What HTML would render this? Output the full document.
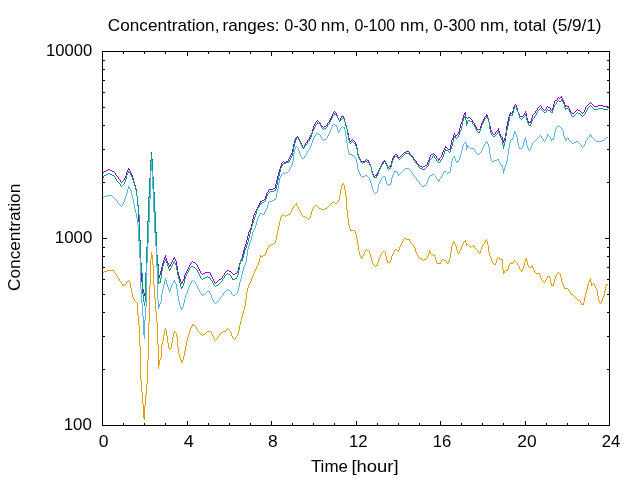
<!DOCTYPE html>
<html><head><meta charset="utf-8"><title>plot</title>
<style>
html,body{margin:0;padding:0;background:#fff;}
body{width:640px;height:480px;overflow:hidden;}
svg{display:block;will-change:transform;}
text{font-family:"Liberation Sans",sans-serif;font-size:16px;fill:#000;}
</style></head><body>
<svg width="640" height="480" viewBox="0 0 640 480">
<rect x="102.5" y="51.5" width="507" height="374" fill="none" stroke="#000" stroke-width="1"/>
<path d="M102.5 425 v-4 M102.5 52 v4 M123.5 425 v-2 M123.5 52 v2 M144.5 425 v-2 M144.5 52 v2 M165.5 425 v-2 M165.5 52 v2 M187.5 425 v-4 M187.5 52 v4 M208.5 425 v-2 M208.5 52 v2 M229.5 425 v-2 M229.5 52 v2 M250.5 425 v-2 M250.5 52 v2 M271.5 425 v-4 M271.5 52 v4 M292.5 425 v-2 M292.5 52 v2 M313.5 425 v-2 M313.5 52 v2 M334.5 425 v-2 M334.5 52 v2 M356.5 425 v-4 M356.5 52 v4 M377.5 425 v-2 M377.5 52 v2 M398.5 425 v-2 M398.5 52 v2 M419.5 425 v-2 M419.5 52 v2 M440.5 425 v-4 M440.5 52 v4 M461.5 425 v-2 M461.5 52 v2 M482.5 425 v-2 M482.5 52 v2 M503.5 425 v-2 M503.5 52 v2 M525.5 425 v-4 M525.5 52 v4 M546.5 425 v-2 M546.5 52 v2 M567.5 425 v-2 M567.5 52 v2 M588.5 425 v-2 M588.5 52 v2 M609.5 425 v-4 M609.5 52 v4 M103 425.5 h4 M609 425.5 h-4 M103 369.5 h2 M609 369.5 h-2 M103 336.5 h2 M609 336.5 h-2 M103 312.5 h2 M609 312.5 h-2 M103 294.5 h2 M609 294.5 h-2 M103 279.5 h2 M609 279.5 h-2 M103 267.5 h2 M609 267.5 h-2 M103 256.5 h2 M609 256.5 h-2 M103 247.5 h2 M609 247.5 h-2 M103 238.5 h4 M609 238.5 h-4 M103 182.5 h2 M609 182.5 h-2 M103 149.5 h2 M609 149.5 h-2 M103 125.5 h2 M609 125.5 h-2 M103 107.5 h2 M609 107.5 h-2 M103 92.5 h2 M609 92.5 h-2 M103 80.5 h2 M609 80.5 h-2 M103 69.5 h2 M609 69.5 h-2 M103 60.5 h2 M609 60.5 h-2 M103 51.5 h4 M609 51.5 h-4" stroke="#000" stroke-width="1" fill="none" shape-rendering="crispEdges"/>
<path d="M103 172h1v1h-1zM104 171h1v1h-1zM105 171h1v1h-1zM106 170h1v1h-1zM107 170h1v1h-1zM108 169h1v1h-1zM109 169h1v1h-1zM110 170h1v1h-1zM111 170h1v1h-1zM112 171h1v1h-1zM113 171h1v1h-1zM114 172h1v1h-1zM115 173h1v2h-1zM116 175h1v1h-1zM117 176h1v1h-1zM118 177h1v2h-1zM119 179h1v1h-1zM120 180h1v2h-1zM121 182h1v1h-1zM122 181h1v1h-1zM123 180h1v1h-1zM124 178h1v2h-1zM125 176h1v2h-1zM126 172h1v4h-1zM127 170h1v2h-1zM128 168h1v2h-1zM129 169h1v2h-1zM130 171h1v2h-1zM131 173h1v2h-1zM132 175h1v3h-1zM133 178h1v4h-1zM134 182h1v3h-1zM135 185h1v4h-1zM136 189h1v7h-1zM137 196h1v9h-1zM138 205h1v17h-1zM139 222h1v18h-1zM140 240h1v23h-1zM141 263h1v19h-1zM142 282h1v7h-1zM143 289h1v4h-1zM144 293h1v3h-1zM145 273h1v20h-1zM146 247h1v26h-1zM147 221h1v26h-1zM148 197h1v24h-1zM149 178h1v19h-1zM150 160h1v18h-1zM151 152h1v8h-1zM152 159h1v18h-1zM153 177h1v15h-1zM154 192h1v20h-1zM155 212h1v20h-1zM156 232h1v23h-1zM157 255h1v9h-1zM158 264h1v11h-1zM159 275h1v3h-1zM160 271h1v4h-1zM161 267h1v4h-1zM162 263h1v4h-1zM163 260h1v3h-1zM164 257h1v3h-1zM165 255h1v3h-1zM166 258h1v3h-1zM167 261h1v2h-1zM168 263h1v2h-1zM169 265h1v2h-1zM170 264h1v2h-1zM171 262h1v2h-1zM172 260h1v2h-1zM173 258h1v2h-1zM174 257h1v2h-1zM175 259h1v2h-1zM176 261h1v5h-1zM177 266h1v6h-1zM178 272h1v4h-1zM179 276h1v3h-1zM180 279h1v3h-1zM181 282h1v2h-1zM182 281h1v2h-1zM183 279h1v2h-1zM184 275h1v4h-1zM185 273h1v2h-1zM186 271h1v2h-1zM187 269h1v2h-1zM188 267h1v2h-1zM189 265h1v2h-1zM190 263h1v2h-1zM191 262h1v1h-1zM192 261h1v1h-1zM193 262h1v1h-1zM194 262h1v1h-1zM195 263h1v1h-1zM196 264h1v1h-1zM197 265h1v2h-1zM198 267h1v2h-1zM199 269h1v2h-1zM200 271h1v2h-1zM201 273h1v1h-1zM202 274h1v1h-1zM203 273h1v1h-1zM204 273h1v1h-1zM205 272h1v1h-1zM206 272h1v1h-1zM207 272h1v1h-1zM208 272h1v1h-1zM209 272h1v1h-1zM210 273h1v2h-1zM211 275h1v2h-1zM212 277h1v2h-1zM213 279h1v2h-1zM214 281h1v2h-1zM215 283h1v1h-1zM216 282h1v1h-1zM217 281h1v1h-1zM218 280h1v1h-1zM219 279h1v1h-1zM220 279h1v1h-1zM221 278h1v1h-1zM222 276h1v2h-1zM223 275h1v1h-1zM224 273h1v2h-1zM225 272h1v1h-1zM226 271h1v1h-1zM227 270h1v1h-1zM228 270h1v1h-1zM229 271h1v1h-1zM230 271h1v1h-1zM231 272h1v1h-1zM232 273h1v1h-1zM233 274h1v1h-1zM234 274h1v1h-1zM235 273h1v1h-1zM236 273h1v1h-1zM237 271h1v2h-1zM238 267h1v4h-1zM239 263h1v4h-1zM240 261h1v2h-1zM241 258h1v3h-1zM242 254h1v4h-1zM243 250h1v4h-1zM244 247h1v3h-1zM245 244h1v3h-1zM246 240h1v4h-1zM247 236h1v4h-1zM248 232h1v4h-1zM249 230h1v2h-1zM250 228h1v2h-1zM251 224h1v4h-1zM252 219h1v5h-1zM253 215h1v4h-1zM254 213h1v2h-1zM255 211h1v2h-1zM256 209h1v2h-1zM257 207h1v2h-1zM258 205h1v2h-1zM259 203h1v2h-1zM260 201h1v2h-1zM261 201h1v1h-1zM262 200h1v1h-1zM263 200h1v1h-1zM264 199h1v1h-1zM265 196h1v3h-1zM266 193h1v3h-1zM267 192h1v1h-1zM268 190h1v2h-1zM269 189h1v1h-1zM270 189h1v1h-1zM271 189h1v1h-1zM272 189h1v1h-1zM273 188h1v1h-1zM274 188h1v1h-1zM275 184h1v4h-1zM276 180h1v4h-1zM277 176h1v4h-1zM278 172h1v4h-1zM279 169h1v3h-1zM280 166h1v3h-1zM281 163h1v3h-1zM282 162h1v1h-1zM283 161h1v1h-1zM284 162h1v1h-1zM285 162h1v1h-1zM286 161h1v1h-1zM287 161h1v1h-1zM288 159h1v2h-1zM289 157h1v2h-1zM290 155h1v2h-1zM291 153h1v2h-1zM292 149h1v4h-1zM293 144h1v5h-1zM294 140h1v4h-1zM295 138h1v2h-1zM296 137h1v1h-1zM297 136h1v1h-1zM298 137h1v2h-1zM299 139h1v2h-1zM300 141h1v2h-1zM301 143h1v2h-1zM302 145h1v2h-1zM303 147h1v1h-1zM304 145h1v2h-1zM305 143h1v2h-1zM306 142h1v1h-1zM307 140h1v2h-1zM308 139h1v1h-1zM309 137h1v2h-1zM310 135h1v2h-1zM311 133h1v2h-1zM312 129h1v4h-1zM313 126h1v3h-1zM314 124h1v2h-1zM315 122h1v2h-1zM316 121h1v1h-1zM317 120h1v1h-1zM318 121h1v1h-1zM319 122h1v1h-1zM320 123h1v2h-1zM321 125h1v1h-1zM322 126h1v1h-1zM323 127h1v1h-1zM324 126h1v1h-1zM325 126h1v1h-1zM326 125h1v1h-1zM327 123h1v2h-1zM328 122h1v1h-1zM329 120h1v2h-1zM330 118h1v2h-1zM331 116h1v2h-1zM332 114h1v2h-1zM333 112h1v2h-1zM334 111h1v1h-1zM335 112h1v1h-1zM336 113h1v2h-1zM337 115h1v3h-1zM338 118h1v2h-1zM339 120h1v1h-1zM340 118h1v2h-1zM341 116h1v2h-1zM342 116h1v1h-1zM343 116h1v2h-1zM344 118h1v4h-1zM345 122h1v4h-1zM346 126h1v3h-1zM347 129h1v4h-1zM348 133h1v5h-1zM349 138h1v3h-1zM350 141h1v1h-1zM351 140h1v1h-1zM352 139h1v1h-1zM353 140h1v1h-1zM354 141h1v1h-1zM355 142h1v2h-1zM356 144h1v4h-1zM357 148h1v6h-1zM358 154h1v3h-1zM359 157h1v2h-1zM360 159h1v2h-1zM361 161h1v1h-1zM362 161h1v1h-1zM363 161h1v1h-1zM364 161h1v1h-1zM365 160h1v1h-1zM366 159h1v1h-1zM367 160h1v1h-1zM368 160h1v2h-1zM369 162h1v3h-1zM370 165h1v2h-1zM371 167h1v4h-1zM372 171h1v3h-1zM373 174h1v2h-1zM374 176h1v1h-1zM375 175h1v1h-1zM376 174h1v2h-1zM377 172h1v2h-1zM378 170h1v2h-1zM379 168h1v2h-1zM380 166h1v2h-1zM381 164h1v2h-1zM382 162h1v2h-1zM383 161h1v1h-1zM384 160h1v1h-1zM385 161h1v2h-1zM386 163h1v2h-1zM387 165h1v2h-1zM388 167h1v1h-1zM389 166h1v1h-1zM390 165h1v2h-1zM391 161h1v4h-1zM392 158h1v3h-1zM393 156h1v2h-1zM394 155h1v1h-1zM395 154h1v1h-1zM396 154h1v1h-1zM397 155h1v2h-1zM398 157h1v1h-1zM399 157h1v1h-1zM400 156h1v1h-1zM401 155h1v1h-1zM402 154h1v1h-1zM403 153h1v1h-1zM404 152h1v1h-1zM405 152h1v1h-1zM406 151h1v1h-1zM407 151h1v1h-1zM408 151h1v1h-1zM409 152h1v2h-1zM410 154h1v1h-1zM411 155h1v1h-1zM412 156h1v1h-1zM413 157h1v2h-1zM414 159h1v1h-1zM415 160h1v1h-1zM416 161h1v2h-1zM417 163h1v1h-1zM418 164h1v1h-1zM419 165h1v1h-1zM420 166h1v1h-1zM421 166h1v1h-1zM422 167h1v1h-1zM423 166h1v1h-1zM424 166h1v1h-1zM425 165h1v1h-1zM426 165h1v1h-1zM427 162h1v3h-1zM428 160h1v2h-1zM429 157h1v3h-1zM430 155h1v2h-1zM431 154h1v1h-1zM432 154h1v1h-1zM433 153h1v1h-1zM434 154h1v1h-1zM435 155h1v1h-1zM436 156h1v2h-1zM437 158h1v1h-1zM438 159h1v2h-1zM439 158h1v2h-1zM440 157h1v1h-1zM441 155h1v2h-1zM442 152h1v3h-1zM443 150h1v2h-1zM444 148h1v2h-1zM445 146h1v2h-1zM446 147h1v1h-1zM447 148h1v1h-1zM448 149h1v1h-1zM449 149h1v1h-1zM450 145h1v4h-1zM451 140h1v5h-1zM452 138h1v2h-1zM453 135h1v3h-1zM454 133h1v2h-1zM455 135h1v2h-1zM456 135h1v1h-1zM457 134h1v1h-1zM458 132h1v2h-1zM459 128h1v4h-1zM460 124h1v4h-1zM461 122h1v2h-1zM462 118h1v4h-1zM463 115h1v3h-1zM464 113h1v2h-1zM465 112h1v5h-1zM466 117h1v1h-1zM467 118h1v1h-1zM468 117h1v1h-1zM469 117h1v1h-1zM470 118h1v1h-1zM471 119h1v1h-1zM472 120h1v2h-1zM473 122h1v1h-1zM474 123h1v2h-1zM475 125h1v2h-1zM476 127h1v2h-1zM477 129h1v1h-1zM478 129h1v1h-1zM479 129h1v1h-1zM480 126h1v3h-1zM481 123h1v3h-1zM482 121h1v2h-1zM483 119h1v2h-1zM484 117h1v2h-1zM485 116h1v1h-1zM486 114h1v2h-1zM487 115h1v3h-1zM488 118h1v4h-1zM489 122h1v4h-1zM490 126h1v4h-1zM491 130h1v2h-1zM492 132h1v2h-1zM493 134h1v1h-1zM494 134h1v1h-1zM495 132h1v2h-1zM496 131h1v1h-1zM497 130h1v1h-1zM498 128h1v3h-1zM499 131h1v3h-1zM500 134h1v2h-1zM501 136h1v1h-1zM502 137h1v3h-1zM503 140h1v3h-1zM504 138h1v3h-1zM505 133h1v5h-1zM506 126h1v7h-1zM507 121h1v5h-1zM508 117h1v4h-1zM509 114h1v3h-1zM510 112h1v2h-1zM511 113h1v1h-1zM512 111h1v3h-1zM513 107h1v4h-1zM514 105h1v2h-1zM515 104h1v1h-1zM516 105h1v3h-1zM517 108h1v4h-1zM518 112h1v2h-1zM519 114h1v2h-1zM520 116h1v1h-1zM521 116h1v1h-1zM522 116h1v1h-1zM523 115h1v1h-1zM524 113h1v2h-1zM525 111h1v2h-1zM526 113h1v5h-1zM527 118h1v3h-1zM528 121h1v2h-1zM529 122h1v1h-1zM530 121h1v2h-1zM531 118h1v3h-1zM532 115h1v3h-1zM533 114h1v1h-1zM534 113h1v1h-1zM535 111h1v2h-1zM536 110h1v1h-1zM537 108h1v2h-1zM538 107h1v1h-1zM539 106h1v1h-1zM540 105h1v1h-1zM541 106h1v2h-1zM542 108h1v1h-1zM543 109h1v1h-1zM544 110h1v1h-1zM545 109h1v1h-1zM546 107h1v2h-1zM547 106h1v1h-1zM548 107h1v1h-1zM549 107h1v1h-1zM550 108h1v2h-1zM551 110h1v1h-1zM552 108h1v2h-1zM553 104h1v4h-1zM554 101h1v3h-1zM555 100h1v1h-1zM556 100h1v1h-1zM557 98h1v2h-1zM558 97h1v1h-1zM559 98h1v1h-1zM560 97h1v1h-1zM561 96h1v2h-1zM562 98h1v2h-1zM563 100h1v2h-1zM564 102h1v3h-1zM565 105h1v2h-1zM566 105h1v1h-1zM567 106h1v1h-1zM568 106h1v2h-1zM569 108h1v2h-1zM570 110h1v2h-1zM571 112h1v1h-1zM572 113h1v1h-1zM573 113h1v1h-1zM574 112h1v1h-1zM575 111h1v1h-1zM576 110h1v1h-1zM577 109h1v1h-1zM578 110h1v1h-1zM579 110h1v1h-1zM580 111h1v1h-1zM581 112h1v1h-1zM582 113h1v1h-1zM583 112h1v1h-1zM584 110h1v2h-1zM585 107h1v3h-1zM586 106h1v1h-1zM587 105h1v1h-1zM588 104h1v1h-1zM589 103h1v1h-1zM590 102h1v1h-1zM591 103h1v1h-1zM592 104h1v1h-1zM593 105h1v1h-1zM594 106h1v1h-1zM595 106h1v1h-1zM596 106h1v1h-1zM597 106h1v1h-1zM598 105h1v1h-1zM599 105h1v1h-1zM600 105h1v1h-1zM601 105h1v1h-1zM602 105h1v1h-1zM603 106h1v1h-1zM604 106h1v1h-1zM605 106h1v1h-1zM606 106h1v1h-1zM607 106h1v1h-1z" fill="#9400d3" shape-rendering="crispEdges"/>
<path d="M103 176h1v2h-1zM104 175h1v1h-1zM105 175h1v1h-1zM106 174h1v1h-1zM107 174h1v1h-1zM108 173h1v1h-1zM109 173h1v1h-1zM110 174h1v1h-1zM111 174h1v1h-1zM112 175h1v1h-1zM113 175h1v1h-1zM114 176h1v1h-1zM115 177h1v2h-1zM116 179h1v2h-1zM117 181h1v1h-1zM118 182h1v1h-1zM119 183h1v1h-1zM120 184h1v2h-1zM121 186h1v1h-1zM122 185h1v1h-1zM123 184h1v1h-1zM124 182h1v2h-1zM125 179h1v3h-1zM126 175h1v4h-1zM127 173h1v2h-1zM128 171h1v2h-1zM129 172h1v1h-1zM130 173h1v2h-1zM131 175h1v2h-1zM132 177h1v3h-1zM133 180h1v3h-1zM134 183h1v3h-1zM135 186h1v4h-1zM136 190h1v6h-1zM137 196h1v10h-1zM138 206h1v9h-1zM139 215h1v26h-1zM140 241h1v24h-1zM141 265h1v8h-1zM142 273h1v21h-1zM143 294h1v8h-1zM144 302h1v4h-1zM145 274h1v28h-1zM146 248h1v26h-1zM147 222h1v26h-1zM148 198h1v24h-1zM149 179h1v19h-1zM150 161h1v18h-1zM151 153h1v8h-1zM152 160h1v18h-1zM153 178h1v15h-1zM154 193h1v20h-1zM155 213h1v20h-1zM156 233h1v23h-1zM157 256h1v10h-1zM158 266h1v18h-1zM159 282h1v1h-1zM160 278h1v5h-1zM161 271h1v7h-1zM162 266h1v5h-1zM163 263h1v3h-1zM164 261h1v2h-1zM165 259h1v2h-1zM166 261h1v2h-1zM167 263h1v3h-1zM168 266h1v3h-1zM169 269h1v2h-1zM170 268h1v2h-1zM171 266h1v2h-1zM172 264h1v2h-1zM173 262h1v2h-1zM174 261h1v2h-1zM175 263h1v2h-1zM176 265h1v5h-1zM177 270h1v5h-1zM178 275h1v4h-1zM179 279h1v4h-1zM180 283h1v4h-1zM181 287h1v2h-1zM182 286h1v2h-1zM183 283h1v3h-1zM184 279h1v4h-1zM185 276h1v3h-1zM186 274h1v2h-1zM187 272h1v2h-1zM188 270h1v2h-1zM189 268h1v2h-1zM190 267h1v1h-1zM191 266h1v1h-1zM192 266h1v1h-1zM193 267h1v1h-1zM194 267h1v1h-1zM195 268h1v1h-1zM196 269h1v1h-1zM197 270h1v2h-1zM198 272h1v2h-1zM199 274h1v2h-1zM200 276h1v2h-1zM201 278h1v1h-1zM202 279h1v1h-1zM203 278h1v1h-1zM204 278h1v1h-1zM205 277h1v1h-1zM206 277h1v1h-1zM207 276h1v1h-1zM208 277h1v1h-1zM209 277h1v1h-1zM210 278h1v2h-1zM211 280h1v1h-1zM212 281h1v2h-1zM213 283h1v2h-1zM214 285h1v1h-1zM215 286h1v1h-1zM216 285h1v1h-1zM217 285h1v1h-1zM218 284h1v1h-1zM219 283h1v1h-1zM220 282h1v1h-1zM221 281h1v1h-1zM222 279h1v2h-1zM223 278h1v1h-1zM224 276h1v2h-1zM225 275h1v1h-1zM226 274h1v1h-1zM227 273h1v1h-1zM228 274h1v1h-1zM229 274h1v1h-1zM230 275h1v1h-1zM231 276h1v2h-1zM232 278h1v2h-1zM233 279h1v1h-1zM234 279h1v1h-1zM235 278h1v1h-1zM236 277h1v2h-1zM237 275h1v2h-1zM238 270h1v5h-1zM239 264h1v6h-1zM240 260h1v4h-1zM241 258h1v2h-1zM242 258h1v3h-1zM243 254h1v4h-1zM244 250h1v4h-1zM245 248h1v2h-1zM246 245h1v3h-1zM247 242h1v3h-1zM248 238h1v4h-1zM249 234h1v4h-1zM250 230h1v4h-1zM251 226h1v4h-1zM252 223h1v3h-1zM253 220h1v3h-1zM254 217h1v3h-1zM255 214h1v3h-1zM256 210h1v4h-1zM257 208h1v2h-1zM258 207h1v1h-1zM259 205h1v2h-1zM260 203h1v2h-1zM261 203h1v1h-1zM262 202h1v1h-1zM263 202h1v1h-1zM264 201h1v1h-1zM265 199h1v2h-1zM266 196h1v3h-1zM267 194h1v2h-1zM268 193h1v1h-1zM269 192h1v1h-1zM270 191h1v1h-1zM271 191h1v1h-1zM272 191h1v1h-1zM273 191h1v1h-1zM274 190h1v1h-1zM275 189h1v2h-1zM276 185h1v4h-1zM277 180h1v5h-1zM278 176h1v4h-1zM279 172h1v4h-1zM280 168h1v4h-1zM281 166h1v2h-1zM282 164h1v2h-1zM283 163h1v1h-1zM284 163h1v1h-1zM285 163h1v1h-1zM286 162h1v1h-1zM287 162h1v1h-1zM288 162h1v1h-1zM289 160h1v2h-1zM290 158h1v2h-1zM291 156h1v2h-1zM292 152h1v4h-1zM293 147h1v5h-1zM294 143h1v4h-1zM295 140h1v3h-1zM296 138h1v2h-1zM297 137h1v1h-1zM298 138h1v2h-1zM299 140h1v2h-1zM300 142h1v2h-1zM301 144h1v2h-1zM302 146h1v2h-1zM303 148h1v1h-1zM304 146h1v2h-1zM305 145h1v1h-1zM306 144h1v1h-1zM307 142h1v2h-1zM308 141h1v1h-1zM309 139h1v2h-1zM310 137h1v2h-1zM311 134h1v3h-1zM312 131h1v3h-1zM313 129h1v2h-1zM314 127h1v2h-1zM315 125h1v2h-1zM316 124h1v1h-1zM317 122h1v2h-1zM318 123h1v1h-1zM319 123h1v1h-1zM320 124h1v2h-1zM321 126h1v2h-1zM322 128h1v1h-1zM323 129h1v1h-1zM324 128h1v1h-1zM325 128h1v1h-1zM326 127h1v1h-1zM327 125h1v2h-1zM328 124h1v1h-1zM329 122h1v2h-1zM330 120h1v2h-1zM331 118h1v2h-1zM332 116h1v2h-1zM333 115h1v1h-1zM334 113h1v2h-1zM335 114h1v1h-1zM336 115h1v1h-1zM337 116h1v2h-1zM338 118h1v2h-1zM339 120h1v2h-1zM340 120h1v1h-1zM341 119h1v1h-1zM342 118h1v1h-1zM343 117h1v2h-1zM344 119h1v3h-1zM345 122h1v3h-1zM346 125h1v4h-1zM347 129h1v6h-1zM348 135h1v5h-1zM349 140h1v3h-1zM350 143h1v1h-1zM351 142h1v1h-1zM352 141h1v1h-1zM353 142h1v1h-1zM354 143h1v1h-1zM355 144h1v2h-1zM356 146h1v3h-1zM357 149h1v6h-1zM358 155h1v3h-1zM359 158h1v2h-1zM360 160h1v2h-1zM361 162h1v1h-1zM362 163h1v1h-1zM363 162h1v1h-1zM364 162h1v1h-1zM365 161h1v1h-1zM366 161h1v1h-1zM367 162h1v1h-1zM368 162h1v1h-1zM369 163h1v1h-1zM370 164h1v3h-1zM371 167h1v5h-1zM372 172h1v3h-1zM373 175h1v2h-1zM374 177h1v1h-1zM375 177h1v1h-1zM376 176h1v2h-1zM377 174h1v2h-1zM378 171h1v3h-1zM379 169h1v2h-1zM380 167h1v2h-1zM381 165h1v2h-1zM382 164h1v1h-1zM383 162h1v2h-1zM384 161h1v1h-1zM385 162h1v2h-1zM386 164h1v2h-1zM387 166h1v3h-1zM388 169h1v1h-1zM389 168h1v1h-1zM390 167h1v2h-1zM391 163h1v4h-1zM392 160h1v3h-1zM393 158h1v2h-1zM394 156h1v2h-1zM395 156h1v1h-1zM396 156h1v1h-1zM397 157h1v1h-1zM398 158h1v1h-1zM399 159h1v1h-1zM400 158h1v1h-1zM401 157h1v1h-1zM402 156h1v1h-1zM403 155h1v1h-1zM404 154h1v1h-1zM405 153h1v1h-1zM406 153h1v1h-1zM407 153h1v1h-1zM408 153h1v1h-1zM409 154h1v1h-1zM410 155h1v1h-1zM411 156h1v1h-1zM412 157h1v1h-1zM413 158h1v2h-1zM414 160h1v2h-1zM415 162h1v1h-1zM416 163h1v1h-1zM417 164h1v1h-1zM418 165h1v2h-1zM419 167h1v1h-1zM420 168h1v1h-1zM421 168h1v1h-1zM422 169h1v1h-1zM423 169h1v1h-1zM424 169h1v1h-1zM425 168h1v1h-1zM426 167h1v1h-1zM427 166h1v1h-1zM428 163h1v3h-1zM429 160h1v3h-1zM430 159h1v1h-1zM431 158h1v1h-1zM432 156h1v2h-1zM433 155h1v1h-1zM434 156h1v2h-1zM435 158h1v1h-1zM436 159h1v2h-1zM437 161h1v1h-1zM438 162h1v1h-1zM439 162h1v1h-1zM440 160h1v2h-1zM441 159h1v1h-1zM442 157h1v2h-1zM443 154h1v3h-1zM444 151h1v3h-1zM445 149h1v2h-1zM446 150h1v1h-1zM447 150h1v1h-1zM448 151h1v1h-1zM449 152h1v1h-1zM450 149h1v3h-1zM451 146h1v3h-1zM452 142h1v4h-1zM453 138h1v4h-1zM454 136h1v2h-1zM455 137h1v1h-1zM456 138h1v1h-1zM457 137h1v1h-1zM458 135h1v2h-1zM459 132h1v3h-1zM460 130h1v2h-1zM461 126h1v4h-1zM462 121h1v5h-1zM463 118h1v3h-1zM464 116h1v2h-1zM465 115h1v5h-1zM466 120h1v6h-1zM467 121h1v3h-1zM468 120h1v1h-1zM469 120h1v1h-1zM470 121h1v1h-1zM471 121h1v1h-1zM472 122h1v2h-1zM473 124h1v1h-1zM474 125h1v2h-1zM475 127h1v2h-1zM476 129h1v2h-1zM477 131h1v1h-1zM478 132h1v1h-1zM479 131h1v2h-1zM480 128h1v3h-1zM481 125h1v3h-1zM482 123h1v2h-1zM483 121h1v2h-1zM484 119h1v2h-1zM485 118h1v1h-1zM486 116h1v2h-1zM487 117h1v2h-1zM488 119h1v3h-1zM489 122h1v7h-1zM490 129h1v4h-1zM491 133h1v2h-1zM492 135h1v1h-1zM493 136h1v1h-1zM494 136h1v1h-1zM495 135h1v1h-1zM496 134h1v1h-1zM497 132h1v2h-1zM498 131h1v2h-1zM499 133h1v3h-1zM500 136h1v2h-1zM501 138h1v2h-1zM502 140h1v5h-1zM503 145h1v4h-1zM504 142h1v4h-1zM505 136h1v6h-1zM506 130h1v6h-1zM507 126h1v4h-1zM508 121h1v5h-1zM509 116h1v5h-1zM510 114h1v2h-1zM511 115h1v1h-1zM512 113h1v3h-1zM513 109h1v4h-1zM514 107h1v2h-1zM515 106h1v1h-1zM516 107h1v3h-1zM517 110h1v2h-1zM518 112h1v3h-1zM519 115h1v3h-1zM520 118h1v1h-1zM521 119h1v1h-1zM522 118h1v1h-1zM523 117h1v1h-1zM524 116h1v1h-1zM525 114h1v2h-1zM526 116h1v4h-1zM527 120h1v3h-1zM528 123h1v2h-1zM529 125h1v1h-1zM530 124h1v2h-1zM531 121h1v3h-1zM532 119h1v2h-1zM533 118h1v1h-1zM534 116h1v2h-1zM535 115h1v1h-1zM536 113h1v2h-1zM537 111h1v2h-1zM538 110h1v1h-1zM539 109h1v1h-1zM540 108h1v1h-1zM541 109h1v1h-1zM542 110h1v1h-1zM543 111h1v1h-1zM544 112h1v1h-1zM545 112h1v1h-1zM546 110h1v2h-1zM547 109h1v1h-1zM548 110h1v1h-1zM549 110h1v1h-1zM550 111h1v1h-1zM551 112h1v1h-1zM552 110h1v3h-1zM553 107h1v3h-1zM554 105h1v2h-1zM555 104h1v1h-1zM556 102h1v2h-1zM557 101h1v1h-1zM558 100h1v1h-1zM559 101h1v1h-1zM560 101h1v1h-1zM561 99h1v2h-1zM562 100h1v2h-1zM563 102h1v2h-1zM564 104h1v4h-1zM565 108h1v2h-1zM566 108h1v1h-1zM567 108h1v1h-1zM568 109h1v1h-1zM569 110h1v2h-1zM570 112h1v2h-1zM571 114h1v2h-1zM572 116h1v1h-1zM573 116h1v1h-1zM574 115h1v1h-1zM575 114h1v1h-1zM576 113h1v1h-1zM577 112h1v1h-1zM578 113h1v1h-1zM579 113h1v1h-1zM580 114h1v1h-1zM581 115h1v1h-1zM582 116h1v1h-1zM583 115h1v1h-1zM584 114h1v1h-1zM585 112h1v2h-1zM586 110h1v2h-1zM587 108h1v2h-1zM588 107h1v1h-1zM589 106h1v1h-1zM590 105h1v1h-1zM591 106h1v1h-1zM592 107h1v1h-1zM593 108h1v1h-1zM594 109h1v1h-1zM595 109h1v1h-1zM596 109h1v1h-1zM597 109h1v1h-1zM598 108h1v1h-1zM599 108h1v1h-1zM600 108h1v1h-1zM601 108h1v1h-1zM602 108h1v1h-1zM603 109h1v1h-1zM604 109h1v1h-1zM605 109h1v1h-1zM606 109h1v1h-1zM607 109h1v1h-1z" fill="#009e73" shape-rendering="crispEdges"/>
<path d="M103 197h1v1h-1zM104 196h1v1h-1zM105 196h1v1h-1zM106 196h1v1h-1zM107 195h1v1h-1zM108 195h1v1h-1zM109 195h1v1h-1zM110 195h1v1h-1zM111 195h1v1h-1zM112 196h1v1h-1zM113 197h1v1h-1zM114 198h1v1h-1zM115 199h1v1h-1zM116 200h1v1h-1zM117 201h1v2h-1zM118 203h1v1h-1zM119 204h1v1h-1zM120 205h1v1h-1zM121 206h1v1h-1zM122 204h1v2h-1zM123 202h1v2h-1zM124 199h1v3h-1zM125 196h1v3h-1zM126 193h1v3h-1zM127 189h1v4h-1zM128 186h1v3h-1zM129 187h1v2h-1zM130 189h1v2h-1zM131 191h1v4h-1zM132 195h1v4h-1zM133 199h1v5h-1zM134 204h1v5h-1zM135 209h1v4h-1zM136 213h1v5h-1zM137 218h1v7h-1zM138 225h1v17h-1zM139 242h1v16h-1zM140 258h1v31h-1zM141 289h1v14h-1zM142 303h1v13h-1zM143 316h1v19h-1zM144 320h1v19h-1zM145 307h1v13h-1zM146 263h1v44h-1zM147 243h1v20h-1zM148 223h1v20h-1zM149 199h1v24h-1zM150 171h1v28h-1zM151 160h1v11h-1zM152 171h1v18h-1zM153 189h1v23h-1zM154 212h1v21h-1zM155 233h1v13h-1zM156 246h1v21h-1zM157 267h1v33h-1zM158 300h1v9h-1zM159 304h1v3h-1zM160 302h1v2h-1zM161 294h1v8h-1zM162 289h1v5h-1zM163 285h1v4h-1zM164 281h1v4h-1zM165 278h1v3h-1zM166 280h1v4h-1zM167 284h1v3h-1zM168 287h1v3h-1zM169 290h1v2h-1zM170 288h1v3h-1zM171 285h1v3h-1zM172 283h1v2h-1zM173 281h1v2h-1zM174 280h1v2h-1zM175 282h1v2h-1zM176 284h1v5h-1zM177 289h1v7h-1zM178 296h1v5h-1zM179 301h1v4h-1zM180 305h1v3h-1zM181 308h1v2h-1zM182 307h1v2h-1zM183 303h1v4h-1zM184 299h1v4h-1zM185 295h1v4h-1zM186 293h1v2h-1zM187 290h1v3h-1zM188 287h1v3h-1zM189 285h1v2h-1zM190 283h1v2h-1zM191 281h1v2h-1zM192 280h1v1h-1zM193 281h1v1h-1zM194 281h1v1h-1zM195 282h1v2h-1zM196 284h1v2h-1zM197 286h1v2h-1zM198 288h1v2h-1zM199 290h1v2h-1zM200 292h1v1h-1zM201 293h1v2h-1zM202 295h1v1h-1zM203 294h1v1h-1zM204 294h1v1h-1zM205 293h1v1h-1zM206 292h1v1h-1zM207 291h1v1h-1zM208 291h1v1h-1zM209 291h1v2h-1zM210 293h1v2h-1zM211 295h1v3h-1zM212 298h1v2h-1zM213 300h1v2h-1zM214 302h1v1h-1zM215 303h1v1h-1zM216 302h1v1h-1zM217 301h1v1h-1zM218 300h1v1h-1zM219 299h1v1h-1zM220 297h1v2h-1zM221 296h1v1h-1zM222 295h1v1h-1zM223 293h1v2h-1zM224 292h1v1h-1zM225 291h1v1h-1zM226 290h1v1h-1zM227 289h1v1h-1zM228 290h1v1h-1zM229 290h1v1h-1zM230 291h1v1h-1zM231 292h1v2h-1zM232 294h1v1h-1zM233 295h1v1h-1zM234 295h1v1h-1zM235 294h1v1h-1zM236 293h1v1h-1zM237 291h1v2h-1zM238 287h1v4h-1zM239 282h1v5h-1zM240 279h1v3h-1zM241 275h1v4h-1zM242 271h1v4h-1zM243 267h1v4h-1zM244 265h1v2h-1zM245 262h1v3h-1zM246 256h1v6h-1zM247 249h1v7h-1zM248 246h1v3h-1zM249 243h1v3h-1zM250 240h1v3h-1zM251 236h1v4h-1zM252 232h1v4h-1zM253 230h1v2h-1zM254 228h1v2h-1zM255 225h1v3h-1zM256 221h1v4h-1zM257 218h1v3h-1zM258 216h1v2h-1zM259 214h1v2h-1zM260 213h1v1h-1zM261 213h1v1h-1zM262 214h1v1h-1zM263 214h1v1h-1zM264 212h1v2h-1zM265 210h1v2h-1zM266 208h1v2h-1zM267 205h1v3h-1zM268 202h1v3h-1zM269 201h1v1h-1zM270 201h1v1h-1zM271 201h1v1h-1zM272 200h1v1h-1zM273 200h1v1h-1zM274 199h1v1h-1zM275 198h1v2h-1zM276 193h1v5h-1zM277 189h1v4h-1zM278 183h1v6h-1zM279 178h1v5h-1zM280 176h1v2h-1zM281 174h1v2h-1zM282 173h1v1h-1zM283 172h1v1h-1zM284 173h1v1h-1zM285 173h1v1h-1zM286 172h1v1h-1zM287 172h1v1h-1zM288 171h1v1h-1zM289 169h1v2h-1zM290 167h1v2h-1zM291 165h1v2h-1zM292 161h1v4h-1zM293 153h1v8h-1zM294 149h1v4h-1zM295 147h1v2h-1zM296 146h1v1h-1zM297 147h1v1h-1zM298 148h1v3h-1zM299 151h1v3h-1zM300 154h1v2h-1zM301 156h1v2h-1zM302 158h1v1h-1zM303 158h1v1h-1zM304 156h1v2h-1zM305 155h1v1h-1zM306 153h1v2h-1zM307 151h1v2h-1zM308 150h1v1h-1zM309 148h1v2h-1zM310 146h1v2h-1zM311 143h1v3h-1zM312 140h1v3h-1zM313 138h1v2h-1zM314 136h1v2h-1zM315 134h1v2h-1zM316 133h1v1h-1zM317 133h1v1h-1zM318 134h1v1h-1zM319 134h1v1h-1zM320 135h1v2h-1zM321 137h1v2h-1zM322 139h1v1h-1zM323 140h1v1h-1zM324 139h1v1h-1zM325 139h1v1h-1zM326 138h1v1h-1zM327 136h1v2h-1zM328 134h1v2h-1zM329 132h1v2h-1zM330 129h1v3h-1zM331 127h1v2h-1zM332 125h1v2h-1zM333 124h1v1h-1zM334 124h1v1h-1zM335 125h1v1h-1zM336 125h1v2h-1zM337 127h1v4h-1zM338 131h1v2h-1zM339 130h1v2h-1zM340 128h1v2h-1zM341 127h1v1h-1zM342 126h1v1h-1zM343 127h1v1h-1zM344 127h1v3h-1zM345 130h1v6h-1zM346 136h1v7h-1zM347 143h1v6h-1zM348 149h1v4h-1zM349 153h1v2h-1zM350 154h1v1h-1zM351 154h1v1h-1zM352 155h1v1h-1zM353 155h1v1h-1zM354 156h1v2h-1zM355 158h1v1h-1zM356 159h1v4h-1zM357 163h1v6h-1zM358 169h1v3h-1zM359 172h1v2h-1zM360 174h1v2h-1zM361 176h1v1h-1zM362 177h1v1h-1zM363 176h1v1h-1zM364 176h1v1h-1zM365 175h1v1h-1zM366 175h1v1h-1zM367 176h1v1h-1zM368 177h1v1h-1zM369 178h1v2h-1zM370 180h1v3h-1zM371 183h1v4h-1zM372 187h1v3h-1zM373 190h1v2h-1zM374 192h1v1h-1zM375 193h1v1h-1zM376 192h1v1h-1zM377 189h1v3h-1zM378 184h1v5h-1zM379 182h1v2h-1zM380 180h1v2h-1zM381 178h1v2h-1zM382 177h1v1h-1zM383 176h1v1h-1zM384 176h1v1h-1zM385 177h1v4h-1zM386 181h1v3h-1zM387 184h1v1h-1zM388 185h1v1h-1zM389 184h1v1h-1zM390 183h1v2h-1zM391 178h1v5h-1zM392 175h1v3h-1zM393 173h1v2h-1zM394 171h1v2h-1zM395 171h1v1h-1zM396 171h1v1h-1zM397 172h1v2h-1zM398 174h1v2h-1zM399 174h1v1h-1zM400 173h1v1h-1zM401 172h1v1h-1zM402 171h1v1h-1zM403 170h1v1h-1zM404 169h1v1h-1zM405 168h1v1h-1zM406 168h1v1h-1zM407 168h1v1h-1zM408 168h1v1h-1zM409 169h1v1h-1zM410 170h1v1h-1zM411 171h1v2h-1zM412 173h1v1h-1zM413 174h1v2h-1zM414 176h1v1h-1zM415 177h1v1h-1zM416 178h1v2h-1zM417 180h1v1h-1zM418 181h1v1h-1zM419 182h1v2h-1zM420 184h1v1h-1zM421 185h1v1h-1zM422 186h1v1h-1zM423 186h1v1h-1zM424 185h1v1h-1zM425 185h1v1h-1zM426 183h1v2h-1zM427 180h1v3h-1zM428 178h1v2h-1zM429 176h1v2h-1zM430 175h1v1h-1zM431 175h1v1h-1zM432 174h1v1h-1zM433 174h1v1h-1zM434 175h1v1h-1zM435 176h1v1h-1zM436 177h1v2h-1zM437 179h1v1h-1zM438 180h1v2h-1zM439 179h1v2h-1zM440 178h1v1h-1zM441 176h1v2h-1zM442 174h1v2h-1zM443 172h1v2h-1zM444 171h1v1h-1zM445 171h1v1h-1zM446 172h1v1h-1zM447 173h1v1h-1zM448 172h1v1h-1zM449 172h1v1h-1zM450 167h1v5h-1zM451 161h1v6h-1zM452 158h1v3h-1zM453 157h1v1h-1zM454 156h1v2h-1zM455 158h1v3h-1zM456 161h1v2h-1zM457 161h1v1h-1zM458 160h1v2h-1zM459 157h1v3h-1zM460 154h1v3h-1zM461 150h1v4h-1zM462 146h1v4h-1zM463 144h1v2h-1zM464 143h1v1h-1zM465 141h1v2h-1zM466 143h1v7h-1zM467 145h1v3h-1zM468 146h1v1h-1zM469 147h1v1h-1zM470 148h1v1h-1zM471 148h1v1h-1zM472 148h1v1h-1zM473 148h1v1h-1zM474 149h1v2h-1zM475 151h1v1h-1zM476 152h1v2h-1zM477 154h1v1h-1zM478 154h1v1h-1zM479 153h1v1h-1zM480 152h1v1h-1zM481 150h1v2h-1zM482 148h1v2h-1zM483 146h1v2h-1zM484 144h1v2h-1zM485 142h1v2h-1zM486 141h1v1h-1zM487 142h1v2h-1zM488 144h1v3h-1zM489 147h1v7h-1zM490 154h1v5h-1zM491 159h1v2h-1zM492 161h1v1h-1zM493 161h1v1h-1zM494 160h1v1h-1zM495 160h1v1h-1zM496 160h1v1h-1zM497 159h1v1h-1zM498 159h1v2h-1zM499 161h1v2h-1zM500 163h1v2h-1zM501 165h1v1h-1zM502 165h1v4h-1zM503 169h1v5h-1zM504 167h1v4h-1zM505 165h1v2h-1zM506 161h1v4h-1zM507 155h1v6h-1zM508 148h1v7h-1zM509 143h1v5h-1zM510 140h1v3h-1zM511 139h1v1h-1zM512 138h1v2h-1zM513 134h1v4h-1zM514 131h1v3h-1zM515 132h1v2h-1zM516 134h1v3h-1zM517 137h1v6h-1zM518 143h1v4h-1zM519 147h1v2h-1zM520 148h1v1h-1zM521 148h1v1h-1zM522 146h1v2h-1zM523 142h1v4h-1zM524 139h1v3h-1zM525 137h1v3h-1zM526 140h1v5h-1zM527 145h1v3h-1zM528 148h1v2h-1zM529 150h1v1h-1zM530 148h1v2h-1zM531 145h1v3h-1zM532 143h1v2h-1zM533 142h1v1h-1zM534 141h1v1h-1zM535 140h1v1h-1zM536 139h1v1h-1zM537 138h1v1h-1zM538 137h1v1h-1zM539 136h1v1h-1zM540 135h1v1h-1zM541 136h1v2h-1zM542 138h1v1h-1zM543 139h1v2h-1zM544 141h1v1h-1zM545 139h1v2h-1zM546 137h1v2h-1zM547 134h1v3h-1zM548 135h1v1h-1zM549 136h1v1h-1zM550 137h1v2h-1zM551 139h1v2h-1zM552 139h1v1h-1zM553 137h1v3h-1zM554 132h1v5h-1zM555 129h1v3h-1zM556 127h1v2h-1zM557 126h1v1h-1zM558 125h1v1h-1zM559 126h1v1h-1zM560 127h1v1h-1zM561 128h1v1h-1zM562 129h1v2h-1zM563 131h1v5h-1zM564 136h1v3h-1zM565 139h1v2h-1zM566 138h1v2h-1zM567 137h1v1h-1zM568 138h1v2h-1zM569 140h1v1h-1zM570 141h1v1h-1zM571 142h1v1h-1zM572 143h1v1h-1zM573 143h1v1h-1zM574 142h1v1h-1zM575 142h1v1h-1zM576 141h1v1h-1zM577 141h1v1h-1zM578 142h1v1h-1zM579 143h1v1h-1zM580 144h1v1h-1zM581 145h1v2h-1zM582 147h1v1h-1zM583 146h1v1h-1zM584 144h1v2h-1zM585 141h1v3h-1zM586 140h1v1h-1zM587 138h1v2h-1zM588 137h1v1h-1zM589 135h1v2h-1zM590 134h1v1h-1zM591 135h1v2h-1zM592 137h1v1h-1zM593 138h1v1h-1zM594 139h1v1h-1zM595 140h1v1h-1zM596 141h1v1h-1zM597 141h1v1h-1zM598 141h1v1h-1zM599 141h1v1h-1zM600 141h1v1h-1zM601 141h1v1h-1zM602 140h1v1h-1zM603 140h1v1h-1zM604 139h1v1h-1zM605 138h1v1h-1zM606 137h1v1h-1zM607 137h1v1h-1z" fill="#56b4e9" shape-rendering="crispEdges"/>
<path d="M103 272h1v1h-1zM104 271h1v1h-1zM105 271h1v1h-1zM106 271h1v1h-1zM107 270h1v1h-1zM108 270h1v1h-1zM109 270h1v1h-1zM110 270h1v1h-1zM111 270h1v1h-1zM112 270h1v1h-1zM113 270h1v1h-1zM114 271h1v2h-1zM115 273h1v1h-1zM116 274h1v2h-1zM117 276h1v2h-1zM118 278h1v1h-1zM119 279h1v2h-1zM120 281h1v1h-1zM121 282h1v2h-1zM122 284h1v2h-1zM123 285h1v1h-1zM124 284h1v1h-1zM125 284h1v1h-1zM126 282h1v2h-1zM127 281h1v1h-1zM128 280h1v1h-1zM129 281h1v2h-1zM130 283h1v5h-1zM131 288h1v5h-1zM132 293h1v4h-1zM133 297h1v2h-1zM134 299h1v2h-1zM135 301h1v1h-1zM136 302h1v1h-1zM137 303h1v12h-1zM138 315h1v10h-1zM139 325h1v21h-1zM140 346h1v34h-1zM141 380h1v12h-1zM142 392h1v12h-1zM143 404h1v14h-1zM144 406h1v14h-1zM145 395h1v11h-1zM146 384h1v11h-1zM147 360h1v24h-1zM148 323h1v37h-1zM149 285h1v38h-1zM150 259h1v26h-1zM151 252h1v7h-1zM152 255h1v10h-1zM153 265h1v20h-1zM154 285h1v14h-1zM155 299h1v12h-1zM156 311h1v11h-1zM157 322h1v23h-1zM158 345h1v24h-1zM159 360h1v5h-1zM160 358h1v2h-1zM161 345h1v13h-1zM162 341h1v4h-1zM163 335h1v6h-1zM164 330h1v5h-1zM165 328h1v2h-1zM166 330h1v6h-1zM167 336h1v7h-1zM168 343h1v5h-1zM169 348h1v2h-1zM170 348h1v1h-1zM171 343h1v5h-1zM172 337h1v6h-1zM173 333h1v4h-1zM174 331h1v2h-1zM175 332h1v1h-1zM176 333h1v4h-1zM177 337h1v10h-1zM178 347h1v7h-1zM179 354h1v3h-1zM180 357h1v3h-1zM181 360h1v3h-1zM182 360h1v2h-1zM183 356h1v4h-1zM184 351h1v5h-1zM185 346h1v5h-1zM186 341h1v5h-1zM187 337h1v4h-1zM188 334h1v3h-1zM189 331h1v3h-1zM190 328h1v3h-1zM191 326h1v2h-1zM192 324h1v2h-1zM193 325h1v1h-1zM194 325h1v1h-1zM195 326h1v1h-1zM196 327h1v2h-1zM197 329h1v2h-1zM198 331h1v1h-1zM199 332h1v1h-1zM200 333h1v1h-1zM201 334h1v1h-1zM202 335h1v1h-1zM203 334h1v1h-1zM204 334h1v1h-1zM205 333h1v1h-1zM206 332h1v1h-1zM207 331h1v1h-1zM208 331h1v1h-1zM209 331h1v1h-1zM210 331h1v1h-1zM211 332h1v2h-1zM212 334h1v2h-1zM213 336h1v2h-1zM214 338h1v2h-1zM215 340h1v1h-1zM216 339h1v1h-1zM217 337h1v2h-1zM218 336h1v1h-1zM219 334h1v2h-1zM220 333h1v1h-1zM221 332h1v1h-1zM222 332h1v1h-1zM223 331h1v1h-1zM224 331h1v1h-1zM225 331h1v1h-1zM226 329h1v2h-1zM227 328h1v1h-1zM228 329h1v1h-1zM229 330h1v1h-1zM230 331h1v2h-1zM231 333h1v3h-1zM232 336h1v2h-1zM233 338h1v1h-1zM234 339h1v1h-1zM235 337h1v2h-1zM236 336h1v1h-1zM237 334h1v2h-1zM238 331h1v3h-1zM239 325h1v6h-1zM240 321h1v4h-1zM241 317h1v4h-1zM242 313h1v4h-1zM243 310h1v3h-1zM244 306h1v4h-1zM245 299h1v7h-1zM246 292h1v7h-1zM247 288h1v4h-1zM248 285h1v3h-1zM249 283h1v2h-1zM250 281h1v2h-1zM251 278h1v3h-1zM252 276h1v2h-1zM253 273h1v3h-1zM254 271h1v2h-1zM255 269h1v2h-1zM256 267h1v2h-1zM257 265h1v2h-1zM258 262h1v3h-1zM259 258h1v4h-1zM260 255h1v3h-1zM261 256h1v1h-1zM262 256h1v1h-1zM263 255h1v1h-1zM264 255h1v1h-1zM265 253h1v2h-1zM266 250h1v3h-1zM267 248h1v2h-1zM268 246h1v2h-1zM269 245h1v1h-1zM270 245h1v1h-1zM271 244h1v1h-1zM272 244h1v1h-1zM273 243h1v1h-1zM274 243h1v1h-1zM275 240h1v3h-1zM276 235h1v5h-1zM277 230h1v5h-1zM278 226h1v4h-1zM279 221h1v5h-1zM280 217h1v4h-1zM281 215h1v2h-1zM282 214h1v1h-1zM283 215h1v1h-1zM284 215h1v1h-1zM285 216h1v1h-1zM286 215h1v1h-1zM287 215h1v1h-1zM288 214h1v1h-1zM289 214h1v1h-1zM290 212h1v2h-1zM291 210h1v2h-1zM292 208h1v2h-1zM293 206h1v2h-1zM294 205h1v1h-1zM295 204h1v1h-1zM296 203h1v2h-1zM297 205h1v2h-1zM298 207h1v2h-1zM299 209h1v2h-1zM300 211h1v2h-1zM301 213h1v2h-1zM302 215h1v1h-1zM303 216h1v1h-1zM304 216h1v1h-1zM305 217h1v1h-1zM306 217h1v1h-1zM307 218h1v1h-1zM308 219h1v1h-1zM309 218h1v1h-1zM310 215h1v3h-1zM311 211h1v4h-1zM312 209h1v2h-1zM313 207h1v2h-1zM314 206h1v1h-1zM315 205h1v1h-1zM316 205h1v1h-1zM317 206h1v1h-1zM318 207h1v1h-1zM319 208h1v1h-1zM320 208h1v1h-1zM321 209h1v1h-1zM322 209h1v1h-1zM323 209h1v1h-1zM324 209h1v1h-1zM325 208h1v1h-1zM326 208h1v1h-1zM327 207h1v1h-1zM328 206h1v1h-1zM329 205h1v1h-1zM330 204h1v1h-1zM331 203h1v1h-1zM332 202h1v1h-1zM333 202h1v1h-1zM334 202h1v1h-1zM335 203h1v1h-1zM336 203h1v1h-1zM337 202h1v1h-1zM338 200h1v2h-1zM339 195h1v5h-1zM340 189h1v6h-1zM341 185h1v4h-1zM342 184h1v1h-1zM343 183h1v2h-1zM344 185h1v5h-1zM345 190h1v6h-1zM346 196h1v14h-1zM347 210h1v8h-1zM348 218h1v7h-1zM349 225h1v4h-1zM350 229h1v2h-1zM351 230h1v1h-1zM352 230h1v1h-1zM353 230h1v1h-1zM354 230h1v1h-1zM355 231h1v3h-1zM356 234h1v5h-1zM357 239h1v6h-1zM358 245h1v6h-1zM359 251h1v4h-1zM360 255h1v2h-1zM361 257h1v2h-1zM362 256h1v2h-1zM363 254h1v2h-1zM364 252h1v2h-1zM365 250h1v2h-1zM366 249h1v1h-1zM367 250h1v1h-1zM368 250h1v1h-1zM369 251h1v3h-1zM370 254h1v3h-1zM371 257h1v4h-1zM372 261h1v3h-1zM373 264h1v1h-1zM374 265h1v1h-1zM375 266h1v1h-1zM376 265h1v1h-1zM377 263h1v3h-1zM378 259h1v4h-1zM379 257h1v2h-1zM380 255h1v2h-1zM381 253h1v2h-1zM382 252h1v1h-1zM383 251h1v1h-1zM384 251h1v1h-1zM385 252h1v4h-1zM386 256h1v4h-1zM387 260h1v3h-1zM388 262h1v1h-1zM389 262h1v1h-1zM390 260h1v2h-1zM391 256h1v4h-1zM392 254h1v2h-1zM393 252h1v2h-1zM394 250h1v2h-1zM395 249h1v1h-1zM396 249h1v1h-1zM397 250h1v1h-1zM398 250h1v2h-1zM399 247h1v3h-1zM400 245h1v2h-1zM401 243h1v2h-1zM402 241h1v2h-1zM403 239h1v2h-1zM404 238h1v1h-1zM405 238h1v1h-1zM406 239h1v1h-1zM407 239h1v1h-1zM408 239h1v1h-1zM409 239h1v2h-1zM410 241h1v2h-1zM411 243h1v1h-1zM412 244h1v1h-1zM413 245h1v1h-1zM414 246h1v2h-1zM415 248h1v4h-1zM416 252h1v2h-1zM417 254h1v2h-1zM418 256h1v2h-1zM419 258h1v1h-1zM420 258h1v1h-1zM421 258h1v1h-1zM422 259h1v1h-1zM423 260h1v1h-1zM424 259h1v1h-1zM425 259h1v1h-1zM426 258h1v1h-1zM427 256h1v2h-1zM428 253h1v3h-1zM429 250h1v3h-1zM430 252h1v2h-1zM431 254h1v1h-1zM432 254h1v1h-1zM433 255h1v1h-1zM434 255h1v2h-1zM435 257h1v3h-1zM436 260h1v3h-1zM437 263h1v1h-1zM438 263h1v1h-1zM439 263h1v1h-1zM440 262h1v2h-1zM441 260h1v2h-1zM442 259h1v1h-1zM443 259h1v1h-1zM444 260h1v1h-1zM445 260h1v1h-1zM446 261h1v2h-1zM447 263h1v1h-1zM448 261h1v2h-1zM449 258h1v3h-1zM450 252h1v6h-1zM451 246h1v6h-1zM452 243h1v3h-1zM453 241h1v2h-1zM454 242h1v2h-1zM455 244h1v2h-1zM456 246h1v4h-1zM457 250h1v3h-1zM458 253h1v1h-1zM459 251h1v2h-1zM460 249h1v2h-1zM461 246h1v3h-1zM462 244h1v2h-1zM463 242h1v2h-1zM464 241h1v1h-1zM465 240h1v3h-1zM466 243h1v3h-1zM467 244h1v1h-1zM468 245h1v1h-1zM469 246h1v1h-1zM470 247h1v1h-1zM471 246h1v1h-1zM472 246h1v1h-1zM473 245h1v1h-1zM474 246h1v2h-1zM475 248h1v1h-1zM476 249h1v1h-1zM477 250h1v1h-1zM478 251h1v2h-1zM479 253h1v1h-1zM480 250h1v3h-1zM481 247h1v3h-1zM482 245h1v2h-1zM483 244h1v1h-1zM484 242h1v2h-1zM485 240h1v2h-1zM486 239h1v2h-1zM487 241h1v4h-1zM488 245h1v7h-1zM489 252h1v4h-1zM490 256h1v2h-1zM491 258h1v3h-1zM492 261h1v2h-1zM493 263h1v1h-1zM494 264h1v1h-1zM495 263h1v2h-1zM496 260h1v3h-1zM497 258h1v2h-1zM498 257h1v1h-1zM499 258h1v1h-1zM500 259h1v1h-1zM501 259h1v1h-1zM502 259h1v10h-1zM503 269h1v5h-1zM504 271h1v2h-1zM505 270h1v1h-1zM506 270h1v1h-1zM507 269h1v2h-1zM508 266h1v3h-1zM509 264h1v2h-1zM510 262h1v2h-1zM511 263h1v1h-1zM512 263h1v1h-1zM513 261h1v2h-1zM514 260h1v1h-1zM515 261h1v1h-1zM516 262h1v1h-1zM517 263h1v2h-1zM518 265h1v2h-1zM519 267h1v2h-1zM520 269h1v1h-1zM521 270h1v2h-1zM522 269h1v2h-1zM523 266h1v3h-1zM524 262h1v4h-1zM525 259h1v3h-1zM526 258h1v3h-1zM527 261h1v4h-1zM528 265h1v2h-1zM529 267h1v1h-1zM530 267h1v1h-1zM531 266h1v1h-1zM532 266h1v2h-1zM533 268h1v2h-1zM534 270h1v2h-1zM535 272h1v1h-1zM536 273h1v1h-1zM537 273h1v1h-1zM538 273h1v1h-1zM539 273h1v2h-1zM540 275h1v3h-1zM541 278h1v2h-1zM542 280h1v1h-1zM543 281h1v1h-1zM544 282h1v1h-1zM545 280h1v2h-1zM546 278h1v2h-1zM547 276h1v2h-1zM548 276h1v1h-1zM549 276h1v2h-1zM550 278h1v5h-1zM551 283h1v3h-1zM552 285h1v1h-1zM553 283h1v3h-1zM554 279h1v4h-1zM555 276h1v3h-1zM556 274h1v2h-1zM557 273h1v1h-1zM558 272h1v1h-1zM559 273h1v1h-1zM560 274h1v3h-1zM561 277h1v5h-1zM562 282h1v2h-1zM563 284h1v3h-1zM564 287h1v2h-1zM565 288h1v1h-1zM566 288h1v1h-1zM567 288h1v1h-1zM568 289h1v2h-1zM569 291h1v1h-1zM570 292h1v2h-1zM571 294h1v1h-1zM572 294h1v1h-1zM573 295h1v1h-1zM574 296h1v1h-1zM575 297h1v1h-1zM576 298h1v1h-1zM577 299h1v1h-1zM578 300h1v1h-1zM579 300h1v1h-1zM580 301h1v2h-1zM581 303h1v2h-1zM582 304h1v1h-1zM583 302h1v3h-1zM584 297h1v5h-1zM585 293h1v4h-1zM586 289h1v4h-1zM587 285h1v4h-1zM588 282h1v3h-1zM589 280h1v2h-1zM590 278h1v4h-1zM591 282h1v4h-1zM592 284h1v1h-1zM593 283h1v1h-1zM594 284h1v2h-1zM595 286h1v2h-1zM596 288h1v2h-1zM597 290h1v6h-1zM598 296h1v5h-1zM599 301h1v2h-1zM600 303h1v1h-1zM601 301h1v2h-1zM602 298h1v3h-1zM603 296h1v2h-1zM604 291h1v5h-1zM605 286h1v5h-1zM606 284h1v2h-1zM607 284h1v1h-1z" fill="#e69f00" shape-rendering="crispEdges"/>
<text transform="translate(107.86,30.60) scale(1.0732,1)">Concentration,</text>
<text transform="translate(222.55,30.60) scale(1.0690,1)">ranges:</text>
<text transform="translate(284.36,30.60) scale(1.0163,1)">0-30</text>
<text transform="translate(320.77,30.60) scale(1.0900,1)">nm,</text>
<text transform="translate(354.38,30.60) scale(0.9968,1)">0-100</text>
<text transform="translate(400.02,30.60) scale(1.0900,1)">nm,</text>
<text transform="translate(433.86,30.60) scale(1.0221,1)">0-300</text>
<text transform="translate(480.02,30.60) scale(1.0900,1)">nm,</text>
<text transform="translate(513.48,30.60) scale(1.0823,1)">total</text>
<text transform="translate(551.93,30.60) scale(1.0734,1)">(5/9/1)</text>
<text transform="translate(45.95,55.90) scale(1.0381,1)">10000</text>
<text transform="translate(54.78,242.90) scale(1.0548,1)">1000</text>
<text transform="translate(63.68,429.90) scale(1.0533,1)">100</text>
<text transform="translate(98.72,446.85) scale(1.0951,1)">0</text>
<text transform="translate(183.64,446.85) scale(1.1300,1)">4</text>
<text transform="translate(267.94,446.85) scale(1.0867,1)">8</text>
<text transform="translate(348.89,446.85) scale(1.0476,1)">12</text>
<text transform="translate(432.76,446.85) scale(1.0419,1)">16</text>
<text transform="translate(517.28,446.85) scale(1.0870,1)">20</text>
<text transform="translate(601.72,446.85) scale(1.0406,1)">24</text>
<text transform="translate(310.90,471.50) scale(1.0598,1)">Time</text>
<text transform="translate(351.50,471.50) scale(1.1521,1)">[hour]</text>
<text transform="rotate(-90) translate(-290.94,20.40) scale(1.0767,1)">Concentration</text>
</svg>
</body></html>
